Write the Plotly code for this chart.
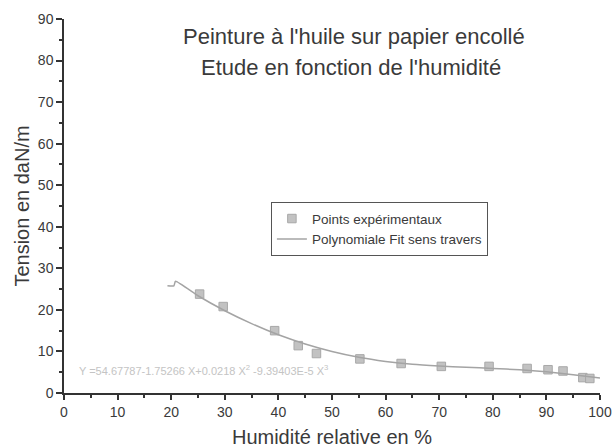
import plotly.graph_objects as go

humidite = [25.3, 29.7, 39.3, 43.7, 47.1, 55.2, 62.9, 70.4, 79.3, 86.4, 90.3, 93.1, 96.8, 98.1]
tension = [23.8, 20.8, 15.0, 11.4, 9.5, 8.2, 7.1, 6.4, 6.4, 5.9, 5.6, 5.3, 3.7, 3.5]

# Polynomial fit curve
fit_x = [19.3, 20.5, 20.8, 25, 30, 35, 40, 45, 50, 55, 60, 65, 70, 75, 80, 85, 90, 95, 100]
fit_y = [25.8, 25.8, 26.9, 23.4, 19.8, 16.7, 14.0, 11.8, 10.0, 8.6, 7.6, 6.9, 6.5, 6.2, 5.9, 5.6, 5.1, 4.4, 3.6]

x_ticks = [0, 10, 20, 30, 40, 50, 60, 70, 80, 90, 100]
y_ticks = [0, 10, 20, 30, 40, 50, 60, 70, 80, 90]

title_1 = "Peinture à l'huile sur papier encollé"
title_2 = "Etude en fonction de l'humidité"
equation = "Y =54.67787-1.75266 X+0.0218 X<sup>2</sup> -9.39403E-5 X<sup>3</sup>"

FONT = "Arial, Liberation Sans, sans-serif"
TXT = "#3a3a3a"

fig = go.Figure()
fig.add_trace(go.Scatter(
    x=humidite, y=tension, mode="markers", name="Points expérimentaux",
    marker=dict(symbol="square", size=8.5, color="#c2c2c2", line=dict(color="#a8a8a8", width=1)),
))
fig.add_trace(go.Scatter(
    x=fit_x, y=fit_y, mode="lines", name="Polynomiale Fit sens travers",
    line=dict(color="#a4a4a4", width=1.5, shape="spline", smoothing=0.5),
))

fig.add_annotation(text=title_1, xref="paper", yref="paper", x=0.541, y=0.952,
                   showarrow=False, font=dict(size=22, color=TXT, family=FONT),
                   xanchor="center", yanchor="middle")
fig.add_annotation(text=title_2, xref="paper", yref="paper", x=0.536, y=0.869,
                   showarrow=False, font=dict(size=22, color=TXT, family=FONT),
                   xanchor="center", yanchor="middle")
fig.add_annotation(text=equation, xref="paper", yref="y", x=0.024, y=5.5,
                   showarrow=False, font=dict(size=11, color="#c4c4c4", family=FONT),
                   xanchor="left", yanchor="middle")

fig.update_layout(
    width=615, height=448,
    margin=dict(l=64, r=15, t=19, b=55, autoexpand=False),
    paper_bgcolor="white", plot_bgcolor="white",
    font=dict(family=FONT, color=TXT, size=14),
    showlegend=True,
    legend=dict(x=0.386, y=0.51, xanchor="left", yanchor="top",
                bordercolor="#555555", borderwidth=1, bgcolor="white",
                font=dict(size=13.5, color=TXT, family=FONT),
                tracegroupgap=0, itemwidth=30),
)
fig.update_xaxes(
    range=[0, 100], tickvals=x_ticks, showgrid=False, zeroline=False, automargin=False,
    showline=True, linecolor="#333333", linewidth=1.5,
    ticks="outside", ticklen=5, tickwidth=1.5, tickcolor="#333333",
    minor=dict(dtick=5, ticks="outside", ticklen=3, tickwidth=1.5, tickcolor="#333333"),
    tickfont=dict(size=14, color=TXT),
    title=dict(text="Humidité relative en %", font=dict(size=20, color=TXT), standoff=13),
)
fig.update_yaxes(
    range=[0, 90], tickvals=y_ticks, showgrid=False, zeroline=False, automargin=False,
    showline=True, linecolor="#333333", linewidth=1.5,
    ticks="outside", ticklen=6, tickwidth=1.5, tickcolor="#333333",
    minor=dict(dtick=5, ticks="outside", ticklen=3, tickwidth=1.5, tickcolor="#333333"),
    tickfont=dict(size=14, color=TXT),
    title=dict(text="Tension en daN/m", font=dict(size=20, color=TXT), standoff=3),
)

fig.write_html("out.html", config={"displayModeBar": False},
               post_script="document.body.style.margin='0px';")
